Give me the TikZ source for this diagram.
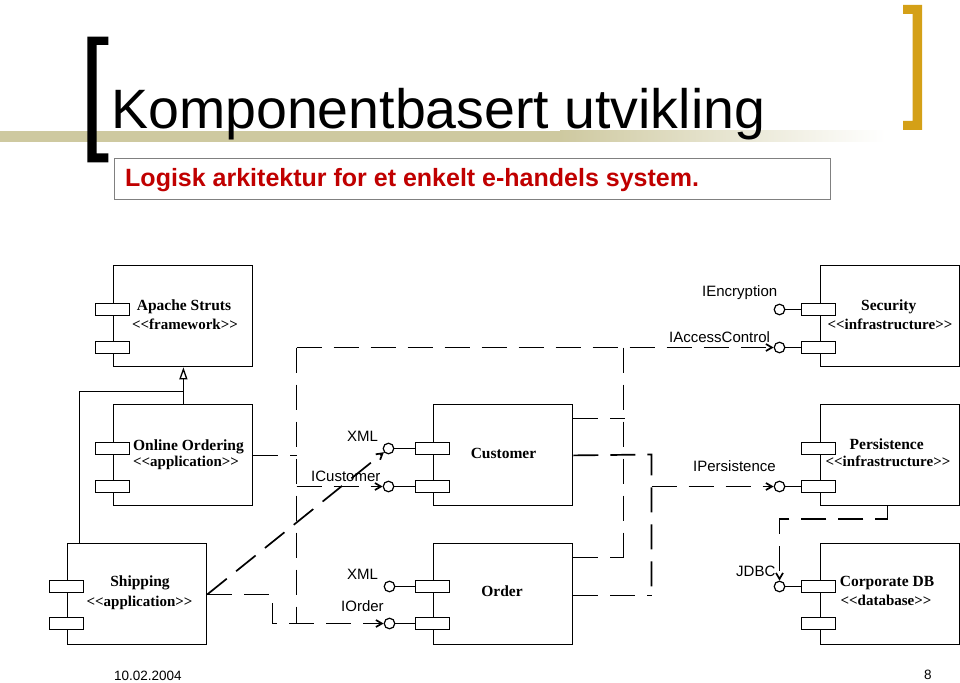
\documentclass[tikz,border=0pt]{standalone}
\usepackage{fontspec}
\setmainfont{Liberation Serif}
\newfontfamily\arial{Liberation Sans}
\usetikzlibrary{arrows.meta,calc}
\definecolor{olivebar}{RGB}{206,201,160}
\definecolor{goldb}{RGB}{212,160,23}
\definecolor{subred}{RGB}{192,0,0}
\begin{document}
\begin{tikzpicture}[x=1bp,y=-1bp,
  comp/.style={draw, line width=1.8bp, fill=white, minimum width=139bp, minimum height=101bp, inner sep=0pt, anchor=north west},
  port/.style={draw, line width=1.4bp, fill=white, minimum width=34bp, minimum height=12bp, inner sep=0pt},
  lolli/.style={draw, circle, line width=1.2bp, fill=white, minimum size=10.6bp, inner sep=0pt},
  cname/.style={font=\fontsize{15.5bp}{15.5bp}\selectfont\bfseries, anchor=base, inner sep=0pt},
  stereo/.style={font=\fontsize{15bp}{15bp}\selectfont\bfseries, anchor=base, inner sep=0pt},
  lbl/.style={font=\arial\fontsize{15bp}{15bp}\selectfont, anchor=base west, inner sep=0pt},
  dep/.style={line width=1.7bp, dash pattern=on 25bp off 12bp},
  deparr/.style={dep, -{Straight Barb[length=6bp,width=7bp]}},
  wire/.style={line width=1.4bp},
  gen/.style={line width=1.3bp}
]
\useasboundingbox (0,0) rectangle (960,683);
\fill[white] (0,0) rectangle (960,683);

% ---------- header ----------
\fill[olivebar] (0,130.7) rectangle (560,141.7);
\shade[left color=olivebar, right color=white] (560,130.7) rectangle (885,141.7);
\node[font=\arial\fontsize{55.5bp}{60bp}\selectfont, anchor=base west, inner sep=0pt] (title) at (111,128.3) {Komponentbasert utvikling};
\fill (87.3,36.7) -- (108.3,36.7) -- (108.3,45) -- (96.7,45) -- (96.7,153.3) -- (108.3,153.3) -- (108.3,162.3) -- (87.3,162.3) -- cycle;
\fill[goldb] (903,5) -- (922,5) -- (922,130) -- (903,130) -- (903,121) -- (912.5,121) -- (912.5,14) -- (903,14) -- cycle;
\node[draw=gray, line width=1.3bp, fill=white, minimum width=716bp, minimum height=41bp, anchor=north west, inner sep=0pt] (subbox) at (113.5,158) {};
\node[font=\arial\bfseries\fontsize{25bp}{25bp}\selectfont, text=subred, anchor=base west, inner sep=0pt] (sub) at (125,186.7) {Logisk arkitektur for et enkelt e-handels system.};

% ---------- components ----------
\node[comp] (struts) at (112.5,264.5) {};
\node[comp] (oo)     at (112.5,403.5) {};
\node[comp] (ship)   at (66.5,542.5) {};
\node[comp] (cust)   at (432.5,403.5) {};
\node[comp] (order)  at (432.5,542.5) {};
\node[comp] (sec)    at (819.5,264.5) {};
\node[comp] (pers)   at (819.5,403.5) {};
\node[comp] (db)     at (819.5,542.5) {};

% ports
\node[port] (strutsA) at (112.5,309.5) {};
\node[port] (strutsB) at (112.5,347.5) {};
\node[port] (ooA)     at (112.5,448.5) {};
\node[port] (ooB)     at (112.5,486.5) {};
\node[port] (shipA)   at (66.5,586.5) {};
\node[port] (shipB)   at (66.5,623.5) {};
\node[port] (custA)   at (432.5,448.5) {};
\node[port] (custB)   at (432.5,486.5) {};
\node[port] (orderA)  at (432.5,586.5) {};
\node[port] (orderB)  at (432.5,623.5) {};
\node[port] (secA)    at (818.5,309.5) {};
\node[port] (secB)    at (818.5,347.5) {};
\node[port] (persA)   at (818.5,448.5) {};
\node[port] (persB)   at (818.5,486.5) {};
\node[port] (dbA)     at (818.5,586.5) {};
\node[port] (dbB)     at (818.5,623.5) {};

% names
\node[cname] (n1) at (184,310) {Apache Struts};
\node[stereo] (n1s) at (185,329) {<{}<framework>{}>};
\node[cname] (n2) at (188.5,450) {Online Ordering};
\node[stereo] (n2s) at (186,466.7) {<{}<application>{}>};
\node[cname] (n3) at (140,586.7) {Shipping};
\node[stereo] (n3s) at (139.5,606) {<{}<application>{}>};
\node[cname] (n4) at (503.5,458) {Customer};
\node[cname] (n5) at (502,596.7) {Order};
\node[cname] (n6) at (888.7,310) {Security};
\node[stereo] (n6s) at (890,329) {<{}<infrastructure>{}>};
\node[cname] (n7) at (886.7,449) {Persistence};
\node[stereo] (n7s) at (888,466.7) {<{}<infrastructure>{}>};
\node[cname] (n8) at (887,586.7) {Corporate DB};
\node[stereo] (n8s) at (886,605) {<{}<database>{}>};

% lollipops
\node[lolli] (lCX) at (388.5,448.5) {};
\node[lolli] (lCI) at (388.5,486.5) {};
\node[lolli] (lOX) at (389.5,586.5) {};
\node[lolli] (lOI) at (389.5,623.5) {};
\node[lolli] (lAE) at (779.5,309.5) {};
\node[lolli] (lAC) at (779.5,347.5) {};
\node[lolli] (lPe) at (779.5,486.5) {};
\node[lolli] (lDB) at (779.5,586.5) {};
\draw[wire] (lCX) -- (custA);
\draw[wire] (lCI) -- (custB);
\draw[wire] (lOX) -- (orderA);
\draw[wire] (lOI) -- (orderB);
\draw[wire] (lAE) -- (secA);
\draw[wire] (lAC) -- (secB);
\draw[wire] (lPe) -- (persB);
\draw[wire] (lDB) -- (dbA);

% interface labels
\node[lbl] (tEnc) at (702,296) {IEncryption};
\node[lbl] (tAC)  at (669,342.3) {IAccessControl};
\node[lbl] (tCX)  at (347,441.7) {XML};
\node[lbl] (tCI)  at (311,481.7) {ICustomer};
\node[lbl] (tOX)  at (347,579) {XML};
\node[lbl] (tOI)  at (341,611.7) {IOrder};
\node[lbl] (tPe)  at (693,471.7) {IPersistence};
\node[lbl] (tDB)  at (736,576) {JDBC};

% ---------- generalization ----------
\coordinate (gj) at ($(oo.north)+(0.5,-12)$);
\draw[gen, -{Triangle[open,length=12bp,width=8bp]}] ($(oo.north)+(0.5,0)$) -- ($(struts.south)+(0.5,0)$);
\draw[gen] ($(ship.north west)+(13,0)$) |- (gj);

% ---------- dependencies ----------
% Online Ordering
\coordinate (ooR) at ($(oo.east)+(0,0.5)$);
\coordinate (j1) at (296.5,347.5);
\coordinate (j2) at (296.5,623.5);
\draw[dep] (ooR) -- (ooR -| j1);
\draw[dep] (j1) -- (j2);
\draw[deparr] (j1) -- (lAC);
\draw[deparr] (lCI -| j1) -- (lCI);
% Shipping
\coordinate (shipR) at ($(ship.east)+(0,0.5)$);
\coordinate (s1) at (272.5,593.5);
\draw[deparr] (shipR) -| (s1 |- lOI) -- (lOI);
\draw[deparr] (shipR) -- (lCX);
% Customer / Order -> IAccessControl
\coordinate (kt) at (623.5,347.5);
\coordinate (kb) at (623.5,557.5);
\draw[dep] (kt) -- (kb);
\draw[dep] ($(cust.north east)+(0,15)$) -- ($(cust.north east)+(52,15)$);
\draw[dep] ($(order.north east)+(0,15)$) -- (kb);
% Customer / Order -> IPersistence
\coordinate (custR) at ($(cust.east)+(0,0.5)$);
\coordinate (orderR) at ($(order.east)+(0,1.5)$);
\coordinate (pt) at (651.5,454.5);
\draw[dep] (custR) -- (pt) -- (orderR -| pt);
\draw[dep] (orderR) -- (orderR -| pt);
\draw[deparr] (lPe -| pt) -- (lPe);
% Persistence -> JDBC
\draw[deparr] ($(pers.south)+(-2.5,0)$) -- ++(0,13) -| (lDB);

% ---------- footer ----------
\node[font=\arial\fontsize{13.5bp}{13.5bp}\selectfont, anchor=base west, inner sep=0pt] (date) at (114,680) {10.02.2004};
\node[font=\arial\fontsize{13.5bp}{13.5bp}\selectfont, anchor=base west, inner sep=0pt] (page) at (924,679) {8};
\end{tikzpicture}
\end{document}
